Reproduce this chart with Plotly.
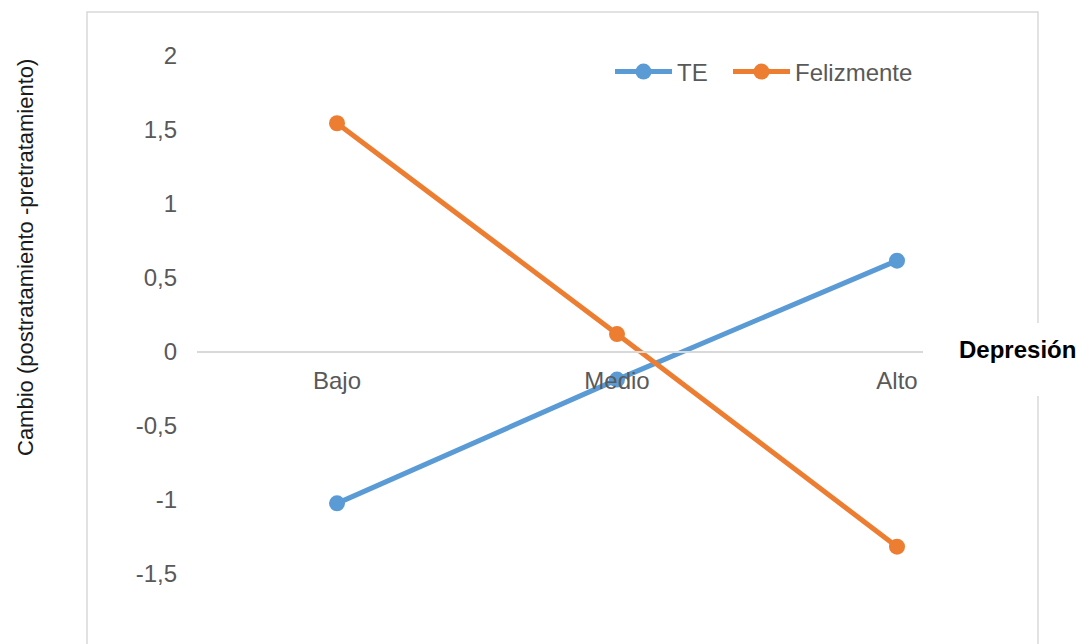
import plotly.graph_objects as go

# Depression level categories and change scores for each treatment
categorias = ["Bajo", "Medio", "Alto"]
te = [-1.026, -0.19, 0.614]
felizmente = [1.542, 0.118, -1.319]
ticks_y = [-1.5, -1, -0.5, 0, 0.5, 1, 1.5, 2]
# Spanish number format with a plain hyphen for negatives
ticks_y_texto = [("%g" % v).replace(".", ",") for v in ticks_y]

AZUL = "#5B9BD5"
NARANJA = "#ED7D31"
GRIS = "#D9D9D9"
TEXTO = "#595959"
FUENTE = "Liberation Sans, Arial"

W, H = 1083, 644
ML, MR, MT, MB = 197, 46, 55, 4
plot_w = W - ML - MR
plot_h = H - MT - MB
px_per_unit = 148.0
y_top = 2 + 0.5 / px_per_unit
y_bot = y_top - plot_h / px_per_unit


def paper_x(px):
    return (px - ML) / plot_w


def paper_y(py):
    return (H - MB - py) / plot_h


fig = go.Figure()
fig.add_trace(go.Scatter(
    x=categorias, y=te, name="TE", mode="lines+markers", legend="legend",
    line=dict(color=AZUL, width=5), marker=dict(color=AZUL, size=16),
))
fig.add_trace(go.Scatter(
    x=categorias, y=felizmente, name="Felizmente", mode="lines+markers",
    legend="legend2",
    line=dict(color=NARANJA, width=5), marker=dict(color=NARANJA, size=16),
))

# outer chart frame
fig.add_shape(type="rect", xref="paper", yref="paper",
              x0=paper_x(87), x1=paper_x(1038), y0=paper_y(660), y1=paper_y(12),
              line=dict(color=GRIS, width=1.5), fillcolor="rgba(0,0,0,0)",
              layer="below")
# white backing behind the horizontal axis title
fig.add_shape(type="rect", xref="paper", yref="paper",
              x0=paper_x(923), x1=paper_x(1090), y0=paper_y(396), y1=paper_y(323),
              line=dict(width=0), fillcolor="white", layer="above")

fig.add_annotation(text="<b>Depresión</b>", xref="paper", yref="paper",
                   x=paper_x(1017), y=paper_y(349), showarrow=False,
                   font=dict(family=FUENTE, size=24, color="black"),
                   xanchor="center", yanchor="middle")
fig.add_annotation(text="Cambio (postratamiento -pretratamiento)", xref="paper", yref="paper",
                   x=paper_x(25), y=paper_y(258), showarrow=False, textangle=-90,
                   font=dict(family=FUENTE, size=22, color="#1a1a1a"),
                   xanchor="center", yanchor="middle")

leyenda = dict(orientation="h", y=paper_y(72), xanchor="left", yanchor="middle",
               bgcolor="rgba(0,0,0,0)", itemwidth=57,
               font=dict(family=FUENTE, size=24, color=TEXTO))

fig.update_layout(
    width=W, height=H,
    margin=dict(l=ML, r=MR, t=MT, b=MB),
    paper_bgcolor="white", plot_bgcolor="white",
    font=dict(family=FUENTE, size=24, color=TEXTO),
    showlegend=True,
    legend=dict(leyenda, x=paper_x(610)),
    legend2=dict(leyenda, x=paper_x(728)),
    xaxis=dict(
        type="category", range=[-0.5, 2.5], anchor="free",
        position=(0 - y_bot) / (y_top - y_bot),
        showline=True, linecolor=GRIS, linewidth=1.5,
        showgrid=False, zeroline=False, ticks="", ticklabelstandoff=8,
        tickfont=dict(family=FUENTE, size=24, color=TEXTO),
    ),
    yaxis=dict(
        range=[y_bot, y_top], tickvals=ticks_y, ticktext=ticks_y_texto,
        showgrid=False, zeroline=False, showline=False, ticks="",
        ticklabelstandoff=19,
        tickfont=dict(family=FUENTE, size=24, color=TEXTO),
    ),
)

fig.write_html("out.html")
